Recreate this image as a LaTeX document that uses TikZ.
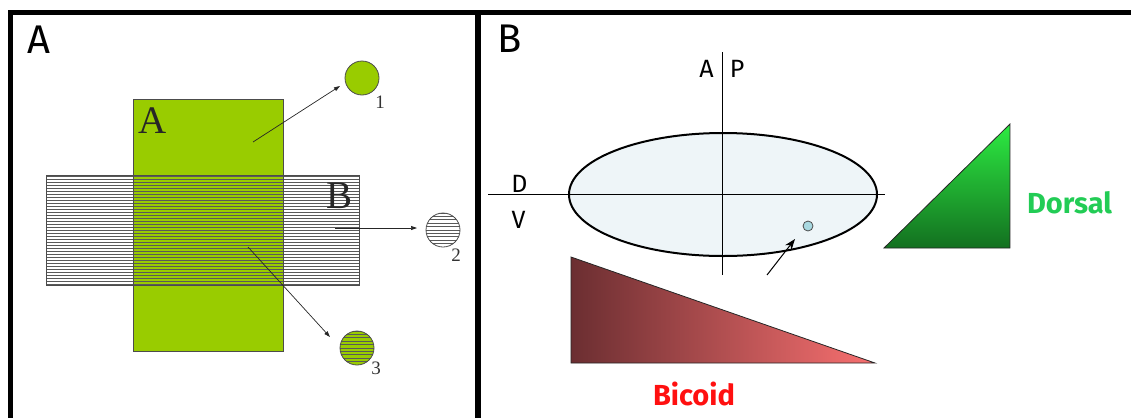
\documentclass[tikz,border=0pt]{standalone}
\usepackage{fontspec}
\setmainfont{Liberation Serif}
\newfontfamily\firafont{Fira Sans}
\usetikzlibrary{arrows.meta,shapes.geometric,calc}
\definecolor{grA}{HTML}{99CC00}
\definecolor{eggc}{HTML}{EEF5F8}
\definecolor{cellc}{HTML}{A8D8E0}
\definecolor{dTop}{HTML}{2DEB42}
\definecolor{dBot}{HTML}{137020}
\definecolor{bLeft}{HTML}{6B2E31}
\definecolor{bRight}{HTML}{F87070}
\definecolor{dorsalc}{HTML}{22CC55}
\definecolor{bicoidc}{HTML}{FF1010}
\tikzset{
  hatchline/.style={draw=black!65, line width=0.9pt},
  thinborder/.style={draw=black!70, line width=0.8pt},
  smallarrow/.style={draw=black!85, line width=0.7pt, -{Triangle[length=6pt,width=4pt]}},
  serifbig/.style={font=\fontsize{39}{39}\selectfont, text=black!85, inner sep=0pt, anchor=base},
  digit/.style={font=\fontsize{19}{19}\selectfont, text=black!80, inner sep=0pt, anchor=base},
  sanspanel/.style={font=\firafont\fontsize{40}{40}\selectfont, inner sep=0pt, anchor=base},
  sansaxis/.style={font=\firafont\fontsize{25}{25}\selectfont, inner sep=0pt, anchor=base},
  sansgene/.style={font=\firafont\bfseries\fontsize{29}{29}\selectfont, inner sep=0pt, anchor=base},
  axisline/.style={draw=black, line width=1pt},
  hatchcircle/.style={circle, minimum size=34pt, inner sep=0pt, thinborder,
    path picture={\foreach \k in {-5,...,5}{\draw[hatchline] ($(path picture bounding box.center)+(-20,\k*3.4)$) -- +(40,0);}}}
}
\begin{document}
\begin{tikzpicture}[x=1pt,y=-1pt]
\useasboundingbox (0,0) rectangle (1131,418);
% frame
\fill[black] (7.5,10) rectangle (1131,15);
\fill[black] (7.5,10) rectangle (12.5,418);
\fill[black] (475,10) rectangle (481,418);

% ---------- panel A ----------
\node[sanspanel] (labA) at (39,53) {A};
\fill[grA] (133,99) rectangle (283,351);
\begin{scope}
  \clip (46,175) rectangle (359,285);
  \foreach \k in {0,...,36}{\draw[hatchline] (46,176.5+3*\k) -- (359,176.5+3*\k);}
\end{scope}
\draw[thinborder] (46,175) rectangle (359,285);
\draw[thinborder] (133,99) rectangle (283,351);
\node[serifbig] (sA) at (153,133) {A};
\node[serifbig] (sB) at (340,208) {B};

\node[circle, minimum size=34pt, inner sep=0pt, fill=grA, thinborder] (c1) at (362,78) {};
\node[hatchcircle, fill=white] (c2) at (443,230) {};
\node[hatchcircle, fill=grA] (c3) at (357,348) {};
\node[digit] (n1) at (380,108) {1};
\node[digit] (n2) at (456,261) {2};
\node[digit] (n3) at (376,374) {3};

\coordinate (a1s) at (253,142); \coordinate (a1e) at (340,86);
\coordinate (a2s) at (335,228); \coordinate (a2e) at (417,228);
\coordinate (a3s) at (248,247); \coordinate (a3e) at (330,337);
\draw[smallarrow] (a1s) -- (a1e);
\draw[smallarrow] (a2s) -- (a2e);
\draw[smallarrow] (a3s) -- (a3e);

% ---------- panel B ----------
\node[sanspanel] (labB) at (509.5,52) {B};
\node[ellipse, minimum width=308pt, minimum height=123pt, inner sep=0pt,
      draw=black, line width=2pt, fill=eggc] (egg) at (723,194.5) {};
\coordinate (hL) at (488,194); \coordinate (hR) at (885,194);
\coordinate (vT) at (722.5,52); \coordinate (vB) at (722.5,275);
\draw[axisline] (hL) -- (hR);
\draw[axisline] (vT) -- (vB);
\node[sansaxis] (axA) at (706.5,77) {A};
\node[sansaxis] (axP) at (737,77) {P};
\node[sansaxis] (axD) at (519.5,192) {D};
\node[sansaxis] (axV) at (518.5,228) {V};
\node[circle, minimum size=10pt, inner sep=0pt, draw=black!70, line width=0.8pt, fill=cellc] (cell) at (808,226) {};
\coordinate (b1s) at (767,275); \coordinate (b1e) at (795,239);
\draw[line width=1pt, -{Stealth[length=11pt,width=8pt]}] (b1s) -- (b1e);

\path[draw=black!85, line width=0.8pt, top color=dTop, bottom color=dBot]
  (884,248) -- (1010,124) -- (1010,248) -- cycle;
\node[sansgene, text=dorsalc] (dorsal) at (1069.5,213) {Dorsal};

\path[draw=black!85, line width=0.8pt, left color=bLeft, right color=bRight]
  (571,257) -- (571,363) -- (875,363) -- cycle;
\node[sansgene, text=bicoidc] (bicoid) at (694,405) {Bicoid};
\end{tikzpicture}
\end{document}
